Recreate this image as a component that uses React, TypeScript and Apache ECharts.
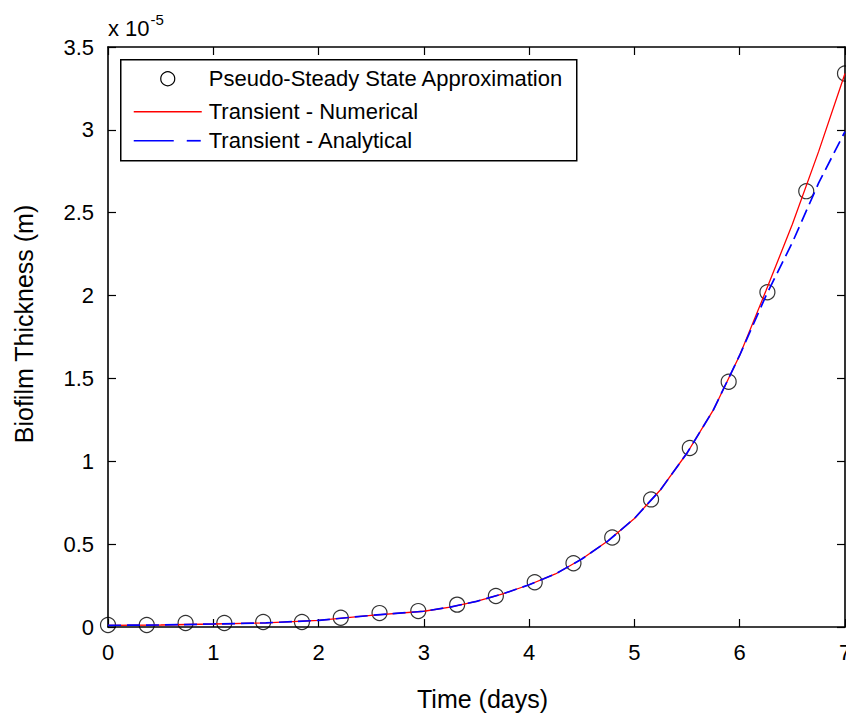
import React, { useEffect, useRef } from "react";
import * as echarts from "echarts";

// Time (days) of the pseudo-steady-state points
const pssTimes = [0, 0.368, 0.737, 1.105, 1.474, 1.842, 2.211, 2.579, 2.947, 3.316, 3.684, 4.053, 4.421, 4.789, 5.158, 5.526, 5.895, 6.263, 6.632, 7];
// Biofilm thickness (x 1e-5 m)
const pssValues = [0.012, 0.012, 0.024, 0.024, 0.03, 0.03, 0.056, 0.084, 0.096, 0.135, 0.187, 0.27, 0.385, 0.54, 0.77, 1.08, 1.48, 2.02, 2.63, 3.34];

const lineTimes = [0, 0.5, 1, 1.5, 2, 2.5, 3, 3.25, 3.5, 3.75, 4, 4.25, 4.5, 4.75, 5, 5.25, 5.5, 5.75, 6, 6.25, 6.5, 6.75, 7];
const numericalValues = [0.01, 0.012, 0.018, 0.025, 0.04, 0.07, 0.095, 0.12, 0.155, 0.2, 0.255, 0.32, 0.41, 0.52, 0.655, 0.83, 1.05, 1.31, 1.64, 2.03, 2.43, 2.87, 3.34];
const analyticalValues = [0.01, 0.012, 0.018, 0.025, 0.04, 0.07, 0.095, 0.12, 0.155, 0.2, 0.255, 0.32, 0.41, 0.52, 0.655, 0.83, 1.05, 1.31, 1.64, 2.0, 2.32, 2.68, 2.99];

const xTicks = { min: 0, max: 7, interval: 1 };
const yTicks = { min: 0, max: 3.5, interval: 0.5 };

const seriesNames = ["Pseudo-Steady State Approximation", "Transient - Numerical", "Transient - Analytical"];

const FONT = "Arial, 'Liberation Sans', sans-serif";

export default function App() {
  const ref = useRef<HTMLDivElement>(null);
  useEffect(() => {
    document.body.style.margin = "0";
    const chart = echarts.init(ref.current!, undefined, { renderer: "svg" });
    const axisLine = { show: true, onZero: false, lineStyle: { color: "#000", width: 1.6 } };
    const tick = { show: true, inside: true, length: 8, lineStyle: { color: "#000", width: 1.2 } };
    const label = { color: "#000", fontSize: 22, fontFamily: FONT };
    const pss = pssTimes.map((t, i) => [t, pssValues[i]]);
    const num = lineTimes.map((t, i) => [t, numericalValues[i]]);
    const ana = lineTimes.map((t, i) => [t, analyticalValues[i]]);
    chart.setOption({
      animation: false,
      backgroundColor: "#fff",
      grid: { left: 108, right: 1, top: 47, bottom: 90, containLabel: false, outerBoundsMode: "none" },
      xAxis: [
        {
          type: "value", ...xTicks, position: "bottom",
          name: "Time (days)", nameLocation: "middle", nameGap: 59,
          nameTextStyle: { color: "#000", fontSize: 25, fontFamily: FONT, padding: [0, 0, 0, 12] },
          axisLine, axisTick: tick, splitLine: { show: false },
          axisLabel: { ...label, margin: 14, hideOverlap: false },
        },
        {
          type: "value", ...xTicks, position: "top",
          axisLine, axisTick: tick, splitLine: { show: false }, axisLabel: { show: false },
        },
      ],
      yAxis: [
        {
          type: "value", ...yTicks, position: "left",
          name: "Biofilm Thickness (m)", nameLocation: "middle", nameGap: 72,
          nameTextStyle: { color: "#000", fontSize: 25, fontFamily: FONT, padding: [0, 0, 0, 26] },
          axisLine, axisTick: tick, splitLine: { show: false },
          axisLabel: { ...label, margin: 14 },
        },
        {
          type: "value", ...yTicks, position: "right",
          axisLine, axisTick: tick, splitLine: { show: false }, axisLabel: { show: false },
        },
      ],
      series: [
        {
          name: seriesNames[0], type: "scatter", data: pss,
          symbol: "circle", symbolSize: 15,
          itemStyle: { color: "rgba(0,0,0,0)", borderColor: "#000", borderWidth: 1.2 },
          clip: false, z: 3,
        },
        {
          name: seriesNames[1], type: "line", data: num, showSymbol: false,
          lineStyle: { color: "#ff0000", width: 1.3 }, z: 4,
        },
        {
          name: seriesNames[2], type: "line", data: ana, showSymbol: false,
          lineStyle: { color: "#0000ff", width: 1.7, type: [13, 6] }, z: 5,
        },
      ],
      graphic: [
        {
          type: "text", left: 108, top: 12,
          style: {
            text: "{a|x 10}{b|-5}",
            rich: {
              a: { fontSize: 22, fontFamily: FONT, fill: "#000", verticalAlign: "bottom", lineHeight: 24 },
              b: { fontSize: 15, fontFamily: FONT, fill: "#000", verticalAlign: "top", padding: [0, 0, 12, 1] },
            },
          },
        },
        {
          type: "group", left: 120, top: 59,
          children: [
            { type: "rect", shape: { x: 0, y: 0, width: 456, height: 101 }, style: { fill: "#fff", stroke: "#000", lineWidth: 1.5 } },
            { type: "circle", shape: { cx: 47, cy: 19, r: 7 }, style: { fill: "none", stroke: "#000", lineWidth: 1.2 } },
            { type: "text", x: 88, y: 19, style: { text: seriesNames[0], fontSize: 22, fontFamily: FONT, fill: "#000", verticalAlign: "middle" } },
            { type: "line", shape: { x1: 13, y1: 52, x2: 81, y2: 52 }, style: { stroke: "#ff0000", lineWidth: 1.3 } },
            { type: "text", x: 88, y: 52, style: { text: seriesNames[1], fontSize: 22, fontFamily: FONT, fill: "#000", verticalAlign: "middle" } },
            { type: "line", shape: { x1: 13, y1: 81, x2: 53, y2: 81 }, style: { stroke: "#0000ff", lineWidth: 1.7 } },
            { type: "line", shape: { x1: 66, y1: 81, x2: 80, y2: 81 }, style: { stroke: "#0000ff", lineWidth: 1.7 } },
            { type: "text", x: 88, y: 81, style: { text: seriesNames[2], fontSize: 22, fontFamily: FONT, fill: "#000", verticalAlign: "middle" } },
          ],
        },
      ],
    });
    return () => chart.dispose();
  }, []);
  return <div ref={ref} style={{ width: 846, height: 717, position: "absolute", left: 0, top: 0 }} />;
}
